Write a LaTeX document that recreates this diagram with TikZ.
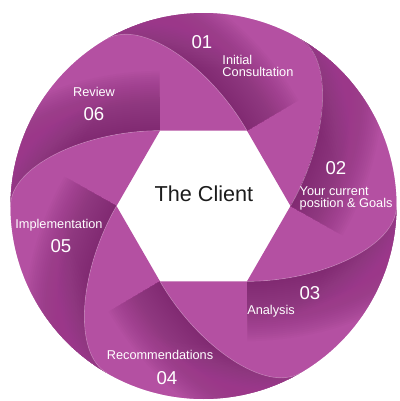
\documentclass[tikz,border=0pt]{standalone}
\usepackage{fontspec}
\setmainfont{Liberation Sans}

\definecolor{bladelight}{RGB}{180,80,162}
\definecolor{bladedark}{RGB}{118,40,104}
\definecolor{clienttext}{RGB}{28,28,28}

\newcommand*{\hexr}{87}
\newcommand*{\circr}{193}
\newcommand*{\armout}{75}
\newcommand*{\armin}{40}

% one blade edge, from the hexagon corner at #1 out to the rim
\newcommand*{\bladeedge}[1]{({#1}:\hexr) .. controls +({#1+60}:\armout) and +({#1-30}:\armin) .. ({#1+60}:\circr)}
% the blade between the edges at #1 and #1+60
\newcommand*{\bladepath}[1]{({#1}:\hexr) -- ({#1+60}:\hexr) .. controls +({#1+120}:\armout) and +({#1+30}:\armin) .. ({#1+120}:\circr) arc[start angle={#1+120}, end angle={#1+60}, radius=\circr] .. controls +({#1-30}:\armin) and +({#1+60}:\armout) .. ({#1}:\hexr) -- cycle}

\begin{document}
\begin{tikzpicture}
[
	x=1bp, y=1bp,
	stepnum/.style={white,inner sep=0pt,font=\fontsize{18.7}{20}\selectfont},
	steptext/.style={white,inner sep=0pt,align=left,font=\fontsize{12.8}{11.8}\selectfont},
	centertext/.style={clienttext,inner sep=0pt,font=\fontsize{21.7}{24}\selectfont}
]

	\useasboundingbox (-203.5,-195) rectangle (196.5,206);

	% blades
	\foreach \a in {0,60,...,300} {
		\fill[bladelight] \bladepath{\a};
		\begin{scope}
			\clip \bladepath{\a};
			\foreach \w in {4,8,...,120}
				\draw[bladedark,line width=\w pt,opacity=0.04] \bladeedge{\a+60};
		\end{scope}
	}

	% lighter rim
	\begin{scope}
		\clip (0,0) circle[radius=\circr];
		\foreach \w in {6,12,...,110}
			\draw[bladelight,line width=\w pt,opacity=0.04] (0,0) circle[radius=\circr];
	\end{scope}

	% edge highlights
	\foreach \a in {0,60,...,300}
		\draw[white,opacity=0.25,line width=0.6pt] \bladeedge{\a};

	% centre
	\node[centertext] (client) at (0.5,12) {The Client};

	% steps
	\node[stepnum] (num1) at (-1.5,164) {01};
	\node[steptext,anchor=west] (step1) at (18.8,140) {Initial\\Consultation};
	\node[stepnum] (num2) at (132.5,38) {02};
	\node[steptext,anchor=west] (step2) at (96,7.5) {Your current\\position \& Goals};
	\node[stepnum] (num3) at (106.5,-87) {03};
	\node[steptext] (step3) at (67.5,-105) {Analysis};
	\node[stepnum] (num4) at (-36.5,-172) {04};
	\node[steptext] (step4) at (-43.5,-149) {Recommendations};
	\node[stepnum] (num5) at (-142.5,-40) {05};
	\node[steptext] (step5) at (-144.5,-19) {Implementation};
	\node[stepnum] (num6) at (-109.5,92) {06};
	\node[steptext] (step6) at (-109.5,114) {Review};

\end{tikzpicture}
\end{document}
